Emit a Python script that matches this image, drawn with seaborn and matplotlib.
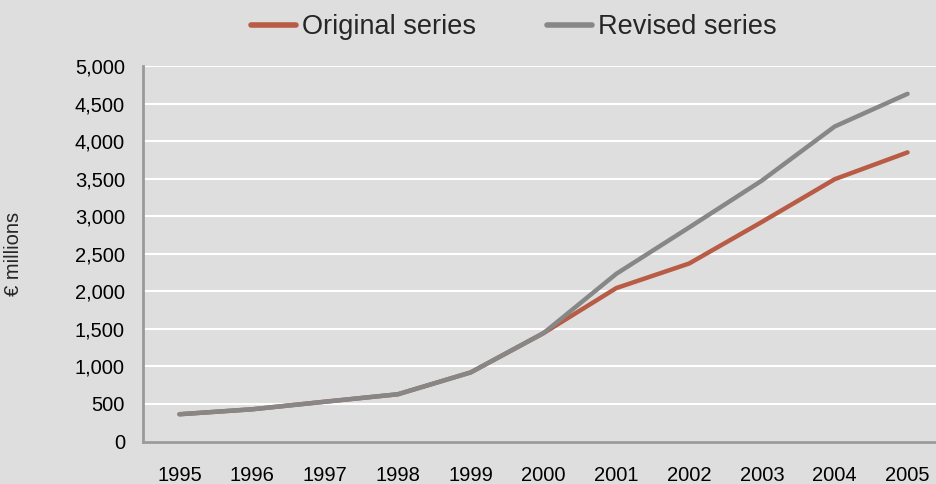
import matplotlib
matplotlib.use("Agg")
import matplotlib.pyplot as plt
import seaborn as sns
import pandas as pd
from matplotlib.ticker import FuncFormatter
from matplotlib.lines import Line2D

years = [1995, 1996, 1997, 1998, 1999, 2000, 2001, 2002, 2003, 2004, 2005]
original = [363, 429, 530, 629, 920, 1443, 2043, 2370, 2924, 3493, 3850]
revised = [363, 429, 530, 629, 920, 1443, 2233, 2850, 3475, 4195, 4630]
series_names = ["Original series", "Revised series"]
colors = ["#B85C45", "#878787"]

df = pd.DataFrame({
    "year": years * 2,
    "value": original + revised,
    "series": [series_names[0]] * len(years) + [series_names[1]] * len(years),
})

sns.set_theme(style="white")
plt.rcParams["font.family"] = ["Liberation Sans", "DejaVu Sans"]
bg = "#DEDEDE"

fig = plt.figure(figsize=(9.36, 4.84), dpi=100, facecolor=bg)
ax = fig.add_axes([0.1528, 0.0878, 0.8557, 0.7758])
ax.set_facecolor(bg)

sns.lineplot(data=df, x="year", y="value", hue="series", hue_order=series_names,
             palette=dict(zip(series_names, colors)), linewidth=3.2, ax=ax,
             legend=False)
for ln in ax.get_lines():
    ln.set_solid_capstyle("round")
    ln.set_solid_joinstyle("round")

ax.set_xlim(years[0] - 0.5, years[-1] + 0.5)
ax.set_ylim(0, 5000)
ax.set_xticks(years)
ax.set_xticklabels([str(y) for y in years])
ax.set_yticks(range(0, 5001, 500))
ax.yaxis.set_major_formatter(FuncFormatter(lambda v, p: f"{int(v):,}"))
ax.tick_params(axis="both", length=0, labelsize=14.5, colors="black")
ax.tick_params(axis="y", pad=13)
ax.tick_params(axis="x", pad=17.5)

ax.grid(axis="y", color="white", linewidth=1.5)
ax.set_axisbelow(True)
for s in ["top", "right"]:
    ax.spines[s].set_visible(False)
for s in ["left", "bottom"]:
    ax.spines[s].set_color("#9A9A9A")
    ax.spines[s].set_linewidth(2)
ax.spines["left"].set_zorder(3)

ax.set_xlabel("")
ax.set_ylabel("€ millions", fontsize=14.5, labelpad=0)
ax.yaxis.set_label_coords(-0.150, 0.5)

handles = [Line2D([], [], color=c, linewidth=4, solid_capstyle="round") for c in colors]
fig.legend(handles, series_names, loc="center", bbox_to_anchor=(0.549, 0.944),
           ncol=2, frameon=False, fontsize=19.5, handlelength=1.67,
           handletextpad=0.22, columnspacing=2.6, borderpad=0)

fig.savefig("out.png", dpi=100, facecolor=bg)
